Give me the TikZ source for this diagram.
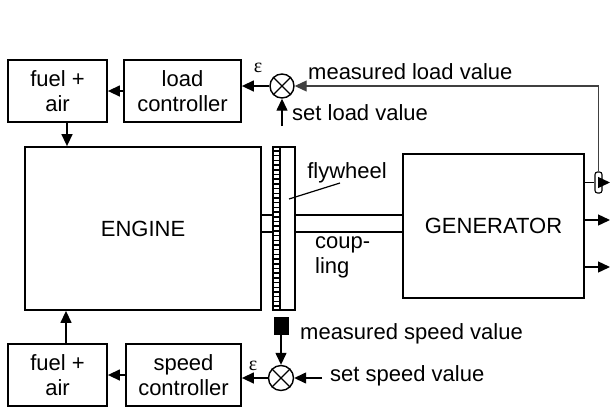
\documentclass[tikz,border=0pt]{standalone}
\usepackage{fontspec}
\setmainfont{Liberation Sans}
\newfontfamily\epsfont{Liberation Serif}
\usetikzlibrary{arrows.meta}
\begin{document}
\begin{tikzpicture}[x=1pt,y=-1pt,
  txt/.style={font=\fontsize{22}{25}\selectfont, inner sep=0pt},
  blk/.style={draw, line width=1.8pt, inner sep=0pt, align=center, txt},
  conn/.style={line width=1.4pt, -{Triangle[length=12pt,width=11pt]}},
  shaft/.style={line width=1.8pt},
  sumc/.style={circle, draw, line width=1.4pt, inner sep=0pt, minimum size=24pt}]
\useasboundingbox (0,0) rectangle (610,410);
% boxes
\node[blk, minimum width=99pt, minimum height=62pt] (fuel1) at (57.5,91) {fuel +\\air};
\node[blk, minimum width=117pt, minimum height=62pt] (loadc) at (182.5,91) {load\\controller};
\node[blk, minimum width=236pt, minimum height=163pt] (engine) at (143,228.5) {ENGINE};
\node[blk, minimum width=181pt, minimum height=144pt] (gen) at (493.5,226) {GENERATOR};
\node[blk, minimum width=99pt, minimum height=62pt] (fuel2) at (57.5,375) {fuel +\\air};
\node[blk, minimum width=115pt, minimum height=62pt] (speedc) at (183.5,375) {speed\\controller};
% flywheel
\node[draw, line width=1.6pt, minimum width=22pt, minimum height=163pt, inner sep=0pt] (fly) at (284,228.5) {};
\draw[line width=1.4pt] (280,147) -- (280,310);
\foreach \y in {151,155.7,...,307} \draw[line width=1.5pt] (273,\y) -- (280,\y);
% shafts
\draw[shaft] (engine.east |- 0,215) -- (fly.west |- 0,215);
\draw[shaft] (engine.east |- 0,232) -- (fly.west |- 0,232);
\draw[shaft] (fly.east |- 0,215) -- (gen.west |- 0,215);
\draw[shaft] (fly.east |- 0,232) -- (gen.west |- 0,232);
\draw[line width=1.2pt] (289,199) -- (340,183);
\node[txt] (flylab) at (347,173) {flywheel};
\node[txt, anchor=west, align=left] (couplab) at (315,257) {coup-\\ling};
% summing junctions
\node[sumc] (sum1) at (282,86) {};
\draw[line width=1.2pt] (sum1.north west) -- (sum1.south east) (sum1.north east) -- (sum1.south west);
\node[sumc, minimum size=25pt] (sum2) at (281,378) {};
\draw[line width=1.2pt] (sum2.north west) -- (sum2.south east) (sum2.north east) -- (sum2.south west);
% sensors
\node[draw, fill=black, minimum width=14pt, minimum height=17pt, inner sep=0pt] (ssens) at (281,325.5) {};
\node[draw, line width=1.1pt, rounded corners=2.5pt, fill=white, minimum width=7pt, minimum height=21pt, inner sep=0pt] (lsens) at (598.5,182.5) {};
% coordinates
\coordinate (setload) at (282,126);
\coordinate (setspeed) at (322,378);
\coordinate (out1) at (610,182.5);
\coordinate (out2) at (610,220);
\coordinate (out3) at (610,267);
% connectors
\draw[conn] (loadc.west) -- (fuel1.east);
\draw[conn] (speedc.west) -- (fuel2.east);
\draw[conn] ([xshift=9.5pt]fuel1.south) -- ([xshift=9.5pt]fuel1.south |- engine.north);
\draw[conn] ([xshift=8.5pt]fuel2.north) -- ([xshift=8.5pt]fuel2.north |- engine.south);
\draw[conn] (sum1.west) -- (sum1.west -| loadc.east);
\draw[conn] (sum2.west) -- (sum2.west -| speedc.east);
\draw[conn] (setload) -- (sum1.south);
\draw[conn] (setspeed) -- (sum2.east);
\draw[conn] (ssens.south) -- (sum2.north);
\draw[line width=1.1pt, black!75, -{Triangle[length=12pt,width=11pt]}] (lsens.north) -- (lsens.north |- sum1.east) -- (sum1.east);
\draw[line width=1.4pt] (gen.east |- lsens.west) -- (lsens.west);
\draw[conn] (lsens.east) -- (out1);
\draw[conn] (gen.east |- out2) -- (out2);
\draw[conn] (gen.east |- out3) -- (out3);
% labels
\node[inner sep=0pt, font=\epsfont\fontsize{20}{20}\selectfont] (eps1) at (258,68) {ε};
\node[inner sep=0pt, font=\epsfont\fontsize{20}{20}\selectfont] (eps2) at (253,366) {ε};
\node[txt, anchor=west] (mlv) at (308,72) {measured load value};
\node[txt, anchor=west] (slv) at (292,113) {set load value};
\node[txt, anchor=west] (msv) at (300,334) {measured speed value};
\node[txt, anchor=west] (ssv) at (330,376) {set speed value};
\end{tikzpicture}
\end{document}
